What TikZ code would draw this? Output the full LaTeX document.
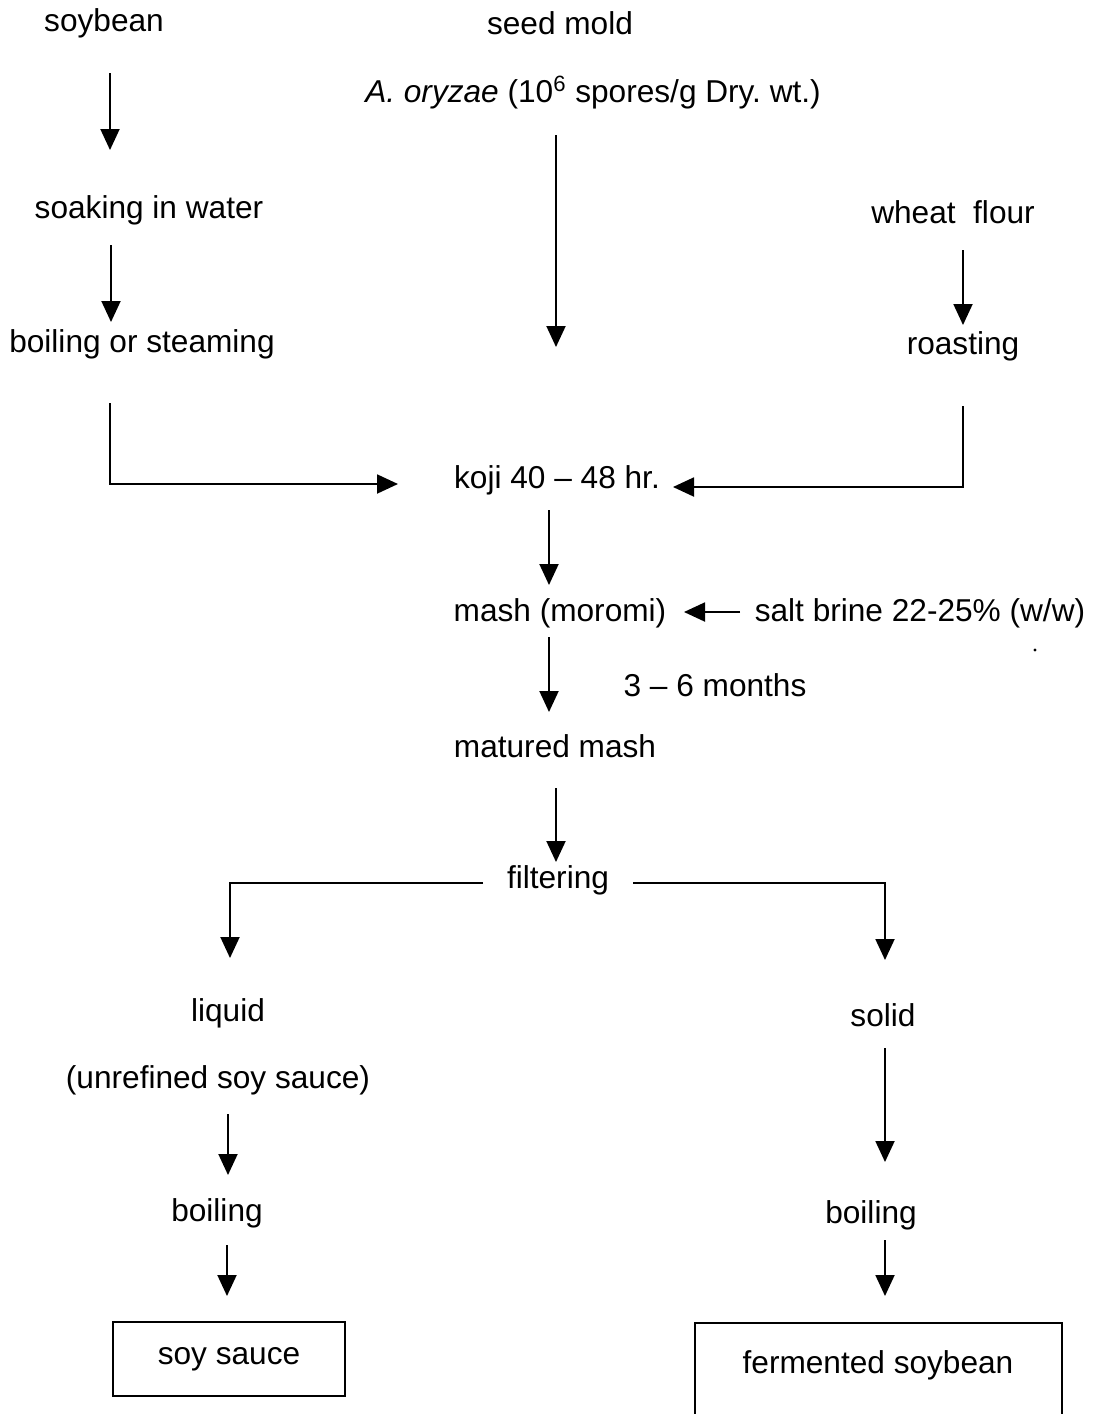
\documentclass[tikz,border=0pt]{standalone}
\usepackage{fontspec}
\setmainfont{Liberation Sans}
\usetikzlibrary{arrows.meta,calc}
\begin{document}
\begin{tikzpicture}[x=0.02cm,y=-0.02cm,
  lbl/.style={inner sep=0pt,font=\fontsize{18}{21}\selectfont},
  arr/.style={line width=1.1pt,-{Triangle[width=0.38cm,length=0.42cm]}},
  boxline/.style={line width=1.3pt}]
\useasboundingbox (0,0) rectangle (1095,1414);
% nodes
\node[lbl] (soybean) at (104,23) {soybean};
\node[lbl] (seed) at (560,23) {seed mold};
\node[lbl] (aory) at (593,93) {\textit{A. oryzae} (10\textsuperscript{6} spores/g Dry.\ wt.)};
\node[lbl] (soaking) at (149,210) {soaking in water};
\node[lbl] (wheat) at (953,212) {wheat\ \ flour};
\node[lbl] (boilst) at (142,344) {boiling or steaming};
\node[lbl] (roasting) at (963,346) {roasting};
\node[lbl] (koji) at (557,480) {koji 40 -- 48 hr.};
\node[lbl] (mash) at (560,613) {mash (moromi)};
\node[lbl] (brine) at (920,613) {salt brine 22-25\% (w/w)};
\node[lbl] (months) at (715,685) {3 -- 6 months};
\node[lbl] (matured) at (555,746) {matured mash};
\node[lbl] (filtering) at (558,880) {filtering};
\node[lbl] (liquid) at (228,1013) {liquid};
\node[lbl] (unref) at (218,1080) {(unrefined soy sauce)};
\node[lbl] (solid) at (883,1015) {solid};
\node[lbl] (boilL) at (217,1213) {boiling};
\node[lbl] (boilR) at (871,1215) {boiling};
\node[lbl,draw,boxline,minimum width=4.64cm,minimum height=1.48cm] (soysauce) at (229,1359) {soy sauce};
\node[lbl] (ferm) at (878,1365) {fermented soybean};
\draw[boxline] ($(ferm)+(-183,49)$) -- ($(ferm)+(-183,-42)$) -- ($(ferm)+(184,-42)$) -- ($(ferm)+(184,49)$);
\fill (1035,650) circle (1.6);
% connectors
\draw[arr] ($(soybean)+(6,50)$) -- ($(soaking)+(-39,-60)$);
\draw[arr] ($(soaking)+(-38,35)$) -- ($(boilst)+(-31,-22)$);
\draw[arr] ($(aory)+(-37,42)$) -- ($(koji)+(-1,-133)$);
\draw[arr] ($(wheat)+(10,38)$) -- ($(roasting)+(0,-21)$);
\draw[arr] ($(boilst)+(-32,59)$) |- ($(koji)+(-159,4)$);
\draw[arr] ($(roasting)+(0,60)$) |- ($(koji)+(116,7)$);
\draw[arr] ($(koji)+(-8,30)$) -- ($(mash)+(-11,-28)$);
\draw[arr] ($(brine)+(-180,-1)$) -- ($(mash)+(124,-1)$);
\draw[arr] ($(mash)+(-11,24)$) -- ($(matured)+(-6,-34)$);
\draw[arr] ($(matured)+(1,42)$) -- ($(filtering)+(-2,-18)$);
\draw[arr] ($(filtering)+(-75,3)$) -| ($(liquid)+(2,-55)$);
\draw[arr] ($(filtering)+(75,3)$) -| ($(solid)+(2,-55)$);
\draw[arr] ($(unref)+(10,34)$) -- ($(boilL)+(11,-38)$);
\draw[arr] ($(boilL)+(10,32)$) -- ($(soysauce)+(-2,-63)$);
\draw[arr] ($(solid)+(2,33)$) -- ($(boilR)+(14,-53)$);
\draw[arr] ($(boilR)+(14,25)$) -- ($(ferm)+(7,-69)$);
\end{tikzpicture}
\end{document}
